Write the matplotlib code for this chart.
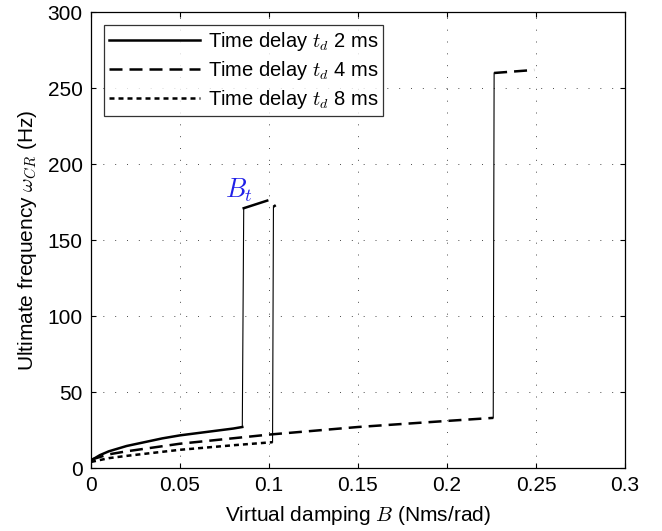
import matplotlib
matplotlib.use("Agg")
import matplotlib.pyplot as plt

plt.rcParams["font.family"] = "Liberation Sans"
plt.rcParams["mathtext.fontset"] = "cm"

# Ultimate frequency vs virtual damping, lower branch and upper branch per delay
b_2ms_lo = [0, 0.005, 0.01, 0.02, 0.03, 0.04, 0.05, 0.06, 0.07, 0.08, 0.085]
w_2ms_lo = [5, 8.5, 11, 14.5, 17, 19.5, 21.5, 23, 24.5, 26, 27]
b_2ms_hi = [0.0858, 0.099]
w_2ms_hi = [171, 176]

b_4ms_lo = [0, 0.01, 0.02, 0.05, 0.1, 0.15, 0.2, 0.226]
w_4ms_lo = [5.5, 9, 11, 16, 22, 27, 31, 33]
b_4ms_hi = [0.2265, 0.249]
w_4ms_hi = [260, 262]

b_8ms_lo = [0, 0.01, 0.02, 0.05, 0.08, 0.102]
w_8ms_lo = [4, 6.5, 8, 12, 15, 17]
b_8ms_hi = [0.1025, 0.1038]
w_8ms_hi = [172, 173]

labels = [r"Time delay $t_d$ 2 ms", r"Time delay $t_d$ 4 ms", r"Time delay $t_d$ 8 ms"]
styles = ["-", (0, (5.2, 2.8)), (0, (2.0, 1.6))]

fig = plt.figure(figsize=(6.62, 5.31), dpi=100)
ax = fig.add_axes([0.1375, 0.1186, 0.8065, 0.8584])

series = [
    (b_2ms_lo, w_2ms_lo, b_2ms_hi, w_2ms_hi),
    (b_4ms_lo, w_4ms_lo, b_4ms_hi, w_4ms_hi),
    (b_8ms_lo, w_8ms_lo, b_8ms_hi, w_8ms_hi),
]
for (blo, wlo, bhi, whi), ls, lab in zip(series, styles, labels):
    ax.plot(blo, wlo, color="black", lw=1.8, linestyle=ls, label=lab)
    ax.plot(bhi, whi, color="black", lw=1.8, linestyle=ls)
    # jump between branches
    ax.plot([blo[-1], bhi[0]], [wlo[-1], whi[0]], color="black", lw=0.8)

ax.text(0.0755, 178, r"$B_t$", color="#2020e8", fontsize=19)

ax.set_xlim(0, 0.3)
ax.set_ylim(0, 300)
ax.set_xticks([0, 0.05, 0.1, 0.15, 0.2, 0.25, 0.3])
ax.set_xticklabels(["0", "0.05", "0.1", "0.15", "0.2", "0.25", "0.3"])
ax.set_yticks(range(0, 301, 50))
ax.tick_params(direction="in", top=True, right=True, labelsize=15, length=3.6, pad=6)
ax.grid(True, color="#333333", linestyle=(0, (1.2, 13)), linewidth=0.6)
for s in ax.spines.values():
    s.set_linewidth(0.9)

ax.set_xlabel(r"Virtual damping $B$ (Nms/rad)", fontsize=15, labelpad=6)
ax.set_ylabel(r"Ultimate frequency $\omega_{CR}$ (Hz)", fontsize=15, labelpad=6)

leg = ax.legend(loc="upper left", fontsize=14.5, frameon=True, fancybox=False,
                edgecolor="black", handlelength=4.5, borderaxespad=0.65,
                labelspacing=0.28, handletextpad=0.4, borderpad=0.25)
leg.get_frame().set_linewidth(0.9)

fig.savefig("out.png", dpi=100)
